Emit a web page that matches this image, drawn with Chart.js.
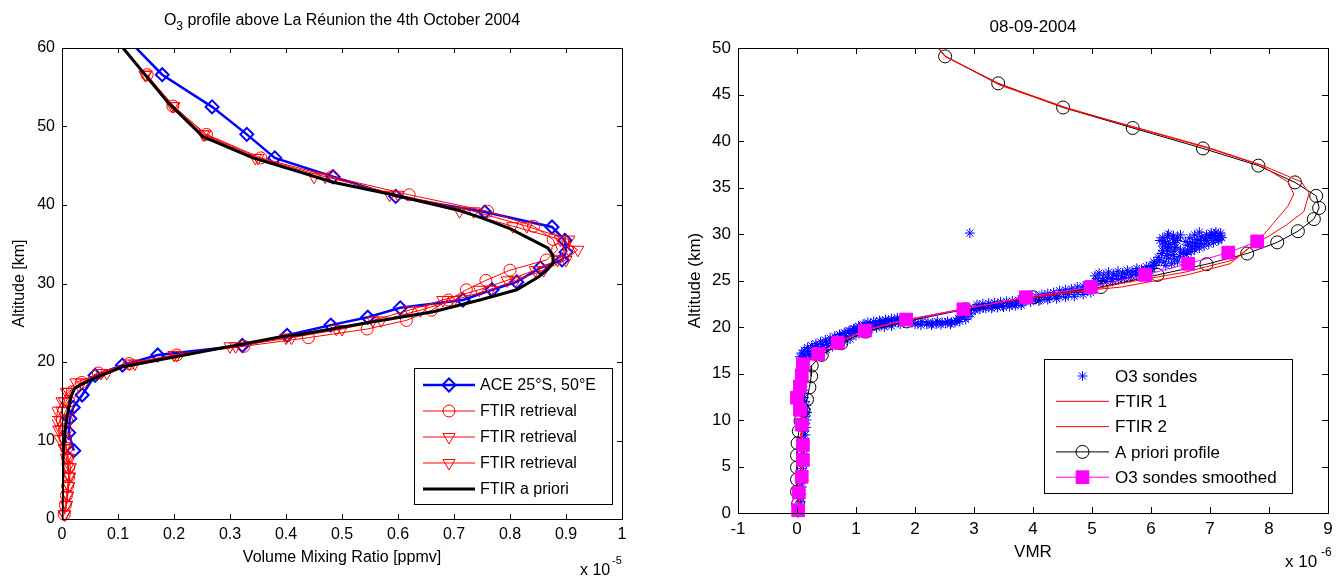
<!DOCTYPE html>
<html><head><meta charset="utf-8">
<script src="https://cdn.jsdelivr.net/npm/chart.js@4.4.1/dist/chart.umd.min.js"></script>
<style>
html,body{margin:0;padding:0;background:#fff;width:1339px;height:577px;overflow:hidden}
canvas{position:absolute;top:0}
#c1{left:0}
#c2{left:670px}
</style></head><body>
<canvas id="c1" width="670" height="577"></canvas>
<canvas id="c2" width="669" height="577"></canvas>
<script>
// ---------------- LEFT CHART DATA (VMR in units of 1e-5 ppmv, altitude km) ----------------
const leftXTicks = [0, 0.1, 0.2, 0.3, 0.4, 0.5, 0.6, 0.7, 0.8, 0.9, 1];
const leftYTicks = [0, 10, 20, 30, 40, 50, 60];

const aceAlt = [62, 56.6, 52.5, 49.0, 46.0, 43.6, 41.1, 39.1, 37.2, 35.5, 34.0, 33.0, 32.0, 30.2, 29.2, 27.9, 26.9, 25.7, 24.7, 23.4, 22.1, 20.9, 19.6, 18.3, 15.8, 14.2, 12.8, 11.0, 8.7];
const aceVmr = [0.105, 0.179, 0.268, 0.330, 0.380, 0.484, 0.596, 0.755, 0.875, 0.898, 0.900, 0.893, 0.854, 0.812, 0.768, 0.716, 0.604, 0.546, 0.480, 0.402, 0.322, 0.171, 0.108, 0.059, 0.036, 0.020, 0.014, 0.012, 0.021];

const ftirAlt = [56.6, 52.6, 49.0, 46.0, 43.6, 41.3, 39.2, 37.3, 35.6, 34.3, 33.0, 31.7, 30.4, 29.2, 27.9, 26.6, 25.3, 24.2, 23.1, 22.0, 20.9, 19.8, 18.6, 17.4, 16.2, 15.0, 13.8, 12.6, 11.4, 10.2, 9.0, 7.8, 6.6, 5.4, 4.2, 3.0, 1.8, 0.6];
const ftir1Vmr = [0.152, 0.198, 0.258, 0.355, 0.482, 0.620, 0.760, 0.842, 0.877, 0.885, 0.865, 0.800, 0.757, 0.722, 0.690, 0.660, 0.615, 0.545, 0.440, 0.325, 0.205, 0.120, 0.065, 0.035, 0.018, 0.012, 0.010, 0.008, 0.006, 0.006, 0.008, 0.010, 0.012, 0.012, 0.010, 0.008, 0.006, 0.004];
const ftir2Vmr = [0.148, 0.197, 0.252, 0.345, 0.450, 0.585, 0.710, 0.805, 0.890, 0.921, 0.900, 0.860, 0.810, 0.765, 0.700, 0.640, 0.570, 0.500, 0.410, 0.310, 0.205, 0.130, 0.080, 0.035, 0.012, 0.000, -0.008, -0.010, -0.006, -0.004, 0.004, 0.008, 0.010, 0.012, 0.012, 0.010, 0.008, 0.005];
const ftir3Vmr = [0.150, 0.200, 0.255, 0.350, 0.470, 0.600, 0.735, 0.830, 0.905, 0.905, 0.885, 0.845, 0.795, 0.745, 0.680, 0.620, 0.555, 0.490, 0.400, 0.300, 0.200, 0.120, 0.070, 0.025, 0.008, 0.004, 0.000, -0.004, -0.002, 0.002, 0.006, 0.012, 0.015, 0.014, 0.012, 0.010, 0.008, 0.004];

const aprioriAlt = [61, 60, 53, 48.7, 46, 44.2, 42.9, 41.3, 39.3, 38.3, 37.0, 35.5, 34.5, 33.5, 32.6, 31.7, 30.8, 29.2, 27.9, 26.4, 25.0, 23.5, 23.2, 20.6, 19.4, 17.7, 16.7, 15.6, 12.2, 8.4, 0];
const aprioriVmr = [0.097, 0.109, 0.190, 0.252, 0.341, 0.425, 0.484, 0.591, 0.710, 0.752, 0.800, 0.841, 0.868, 0.877, 0.877, 0.866, 0.850, 0.812, 0.746, 0.663, 0.545, 0.425, 0.389, 0.198, 0.109, 0.050, 0.023, 0.016, 0.007, 0.002, 0.000];

// ---------------- RIGHT CHART DATA (VMR in units of 1e-6, altitude km) ----------------
const rightXTicks = [-1, 0, 1, 2, 3, 4, 5, 6, 7, 8, 9];
const rightYTicks = [0, 5, 10, 15, 20, 25, 30, 35, 40, 45, 50];

const sondeVmr = [
 0.02,0.05,0.03,0.06,0.04,0.07,0.05,0.08,0.06,0.09,0.07,0.10,0.08,0.11,0.09,0.12,0.10,0.12,0.11,0.13,0.12,0.14,0.12,0.15,0.13,0.16,0.14,0.17,0.15,0.16,0.13,0.12,0.10,0.11,0.09,0.10,0.08,0.09,0.07,0.08,0.09,
 0.10,0.14,0.12,0.20,0.18,0.28,0.26,0.36,0.34,0.45,0.43,0.52,0.50,0.60,0.58,0.68,0.66,0.76,0.74,0.84,0.82,0.92,0.90,1.00,0.98,1.08,1.06,1.16,1.15,1.25,1.24,1.34,1.33,1.43,1.42,1.52,1.51,1.62,1.60,1.72,1.70,1.82,
 0.05,0.08,0.12,0.18,0.25,0.32,0.40,0.48,0.56,0.64,0.72,0.80,0.88,0.96,1.04,1.12,1.20,1.30,1.40,1.50,1.60,1.70,
 0.22,0.30,0.40,0.50,0.60,0.70,0.80,0.90,1.00,1.10,1.22,1.35,1.48,1.60,1.75,
 1.95,2.05,2.12,2.22,2.30,2.38,2.46,2.55,2.62,2.70,2.74,2.78,2.81,2.84,2.88,2.92,
 2.00,2.10,2.20,2.28,2.36,2.44,2.52,2.60,2.68,2.76,2.86,2.90,2.95,
 3.00,3.08,3.16,3.24,3.32,3.40,3.48,3.56,3.64,3.72,3.80,3.88,3.96,4.04,4.12,
 3.02,3.10,3.20,3.30,3.40,3.50,3.60,3.70,3.80,3.05,3.15,3.25,3.35,3.45,3.55,3.65,3.75,3.85,
 4.20,4.28,4.36,4.44,4.52,4.60,4.68,4.76,4.84,4.92,5.00,
 3.95,4.05,4.15,4.25,4.35,4.45,4.55,4.65,4.75,4.85,4.95,4.10,4.25,4.40,4.55,4.70,4.85,4.98,
 5.02,5.06,5.10,5.18,5.26,5.34,5.42,5.50,5.58,5.66,5.74,5.82,5.90,5.98,6.02,
 5.05,5.12,5.20,5.28,5.36,5.44,5.52,5.60,5.68,5.76,5.84,5.92,6.00,5.15,5.25,5.35,5.45,5.55,5.65,5.75,5.85,5.95,
 6.06,6.10,6.14,6.22,6.30,6.26,6.38,6.34,6.28,6.20,6.32,6.22,6.36,6.28,6.44,6.42,6.50,6.56,6.48,
 6.05,6.12,6.18,6.40,6.45,6.35,6.25,6.20,6.40,6.30,6.25,6.40,6.45,6.30,6.20,6.15,6.50,6.38,
 6.62,6.70,6.66,6.78,6.76,6.86,6.84,6.94,6.92,7.02,7.00,7.10,7.08,7.18,7.15,
 6.55,6.60,6.68,6.74,6.82,6.90,6.98,7.06,7.14,7.20,6.62,6.70,6.78,6.86,6.94,7.02,7.10,7.18,6.58,6.66,6.74,6.82,
 2.93];
const sondeAlt = [
 0.0,0.4,0.8,1.2,1.6,2.0,2.4,2.8,3.2,3.6,4.0,4.4,4.8,5.2,5.6,6.0,6.4,6.8,7.2,7.6,8.0,8.4,8.8,9.2,9.6,10.0,10.4,10.8,11.2,11.6,12.0,12.4,12.8,13.2,13.6,14.0,14.4,14.8,15.2,15.6,16.0,
 16.4,16.7,17.0,17.1,17.4,17.4,17.7,17.6,17.9,17.8,18.1,18.0,18.3,18.2,18.5,18.5,18.8,18.7,19.0,19.0,19.3,19.3,19.6,19.5,19.8,19.7,20.0,19.9,20.2,20.0,20.3,20.1,20.4,20.2,20.5,20.3,20.6,20.4,20.7,20.5,20.8,20.6,
 16.8,17.2,17.5,17.8,18.0,18.2,18.4,18.6,18.8,19.0,19.2,19.4,19.6,19.8,20.1,20.3,20.5,20.6,20.7,20.8,20.9,21.0,
 16.9,17.1,17.3,17.6,17.9,18.1,18.4,18.7,19.1,19.4,19.7,19.9,20.0,20.1,20.3,
 20.5,20.4,20.6,20.5,20.4,20.6,20.5,20.6,20.5,20.7,20.9,21.1,21.3,21.5,21.7,21.9,
 20.3,20.2,20.3,20.2,20.35,20.25,20.4,20.3,20.5,20.6,20.8,21.1,21.4,
 22.0,22.2,22.1,22.3,22.2,22.4,22.3,22.5,22.4,22.6,22.5,22.8,22.7,23.0,22.9,
 21.8,21.9,22.0,22.0,22.1,22.15,22.2,22.3,22.35,22.4,22.5,22.55,22.6,22.7,22.75,22.8,22.9,23.0,
 23.2,23.1,23.4,23.3,23.6,23.5,23.8,23.7,24.0,23.9,24.2,
 23.2,23.3,23.5,23.6,23.7,23.9,24.0,24.1,24.3,24.4,24.5,22.8,22.95,23.05,23.2,23.3,23.5,23.7,
 24.6,24.9,25.2,25.0,25.3,25.2,25.5,25.4,25.7,25.6,25.9,25.8,26.1,26.0,26.3,
 25.5,25.8,25.6,25.9,25.7,26.0,25.8,26.1,26.0,26.3,26.2,26.5,26.6,24.7,24.9,24.9,25.1,25.2,25.3,25.5,25.6,25.8,
 26.6,26.9,27.2,27.0,27.4,27.7,27.8,28.1,28.4,28.7,28.9,29.2,29.5,29.8,29.3,28.6,28.3,27.9,27.6,
 27.0,27.5,27.9,27.3,27.0,26.8,26.6,28.2,28.5,28.6,29.0,29.1,29.6,30.0,29.6,29.3,29.9,29.8,
 28.2,28.5,28.8,28.7,29.0,29.0,29.3,29.3,29.6,29.5,29.8,29.7,30.0,29.8,29.4,
 28.0,27.8,28.1,28.3,28.5,28.7,28.9,29.1,29.3,29.6,28.8,29.1,29.4,29.7,29.9,30.1,30.2,30.1,29.2,29.6,29.9,30.2,
 30.1];

const ftirAAlt = [51, 49.1, 46.1, 43.6, 41.4, 39.3, 37.4, 35.6, 34.3, 33.0, 31.5, 30.0, 29.2, 28.2, 27.2, 25.9, 24.7, 24.2, 23.5, 22.9, 22.0, 20.8, 19.7, 18.4, 17.2, 16.3, 15.0, 12.0, 9.0, 6.0, 3.0, 0.0];
const ftirAVmr = [2.26, 2.51, 3.43, 4.56, 5.74, 6.93, 7.86, 8.32, 8.42, 8.32, 8.12, 7.92, 7.80, 7.60, 7.39, 6.58, 5.50, 5.14, 4.40, 3.70, 2.85, 1.88, 1.16, 0.71, 0.37, 0.15, 0.10, 0.09, 0.08, 0.08, 0.06, 0.04];
const ftirBAlt = [51, 49.1, 46.0, 43.5, 41.4, 39.3, 37.4, 35.6, 34.4, 32.4, 31.0, 29.7, 29.2, 27.9, 26.8, 25.6, 24.3, 23.8, 23.2, 22.0, 20.8, 19.7, 18.4, 17.2, 16.3, 15.0, 12.0, 9.0, 6.0, 3.0, 0.0];
const ftirBVmr = [2.26, 2.52, 3.44, 4.57, 5.78, 6.97, 7.88, 8.55, 8.68, 8.59, 8.30, 7.98, 7.80, 7.55, 7.34, 6.61, 5.50, 4.68, 3.90, 2.90, 1.90, 1.17, 0.72, 0.38, 0.15, 0.10, 0.10, 0.08, 0.07, 0.05, 0.04];

const apAlt = [51, 49.1, 46.2, 43.6, 41.4, 39.2, 37.35, 35.55, 34.1, 32.8, 31.6, 30.3, 29.1, 27.9, 26.75, 25.6, 24.3, 23.2, 21.9, 20.6, 19.5, 18.25, 17.0, 15.85, 14.7, 13.5, 12.2, 11.0, 9.9, 8.8, 7.5, 6.2, 4.9, 3.6, 2.3, 1.0];
const apVmr = [2.26, 2.51, 3.41, 4.51, 5.69, 6.88, 7.82, 8.44, 8.80, 8.85, 8.76, 8.49, 8.14, 7.63, 6.94, 6.11, 5.15, 4.00, 2.85, 1.86, 1.16, 0.75, 0.42, 0.25, 0.24, 0.21, 0.17, 0.11, 0.06, 0.03, 0.01, 0.00, 0.00, 0.00, 0.00, 0.02];

const smAlt = [0.3, 2.2, 3.9, 5.7, 7.3, 9.5, 11.1, 12.4, 13.6, 14.8, 16.0, 17.1, 18.3, 19.6, 20.8, 21.9, 23.2, 24.3, 25.6, 26.8, 28.0, 29.2];
const smVmr = [0.02, 0.03, 0.08, 0.10, 0.10, 0.08, 0.05, 0.00, 0.05, 0.08, 0.10, 0.36, 0.69, 1.15, 1.85, 2.82, 3.88, 4.98, 5.90, 6.63, 7.31, 7.80];

// ---------------- helpers ----------------
const FONT = "'Liberation Sans', Arial, Helvetica, sans-serif";
const zip = (xs, ys) => xs.map((x, i) => ({x: x, y: ys[i]}));
const fmt = v => String(Math.round(v * 100) / 100);

const boxTicks = {
  id: 'boxTicks',
  afterDatasetsDraw(chart, args, o) {
    const {ctx, chartArea: a, scales} = chart;
    const L = o.len;
    ctx.save();
    ctx.strokeStyle = '#000';
    ctx.lineWidth = 1;
    ctx.beginPath();
    scales.x.ticks.forEach(t => {
      const p = Math.round(scales.x.getPixelForValue(t.value)) + 0.5;
      ctx.moveTo(p, a.bottom); ctx.lineTo(p, a.bottom - L);
      ctx.moveTo(p, a.top); ctx.lineTo(p, a.top + L);
    });
    scales.y.ticks.forEach(t => {
      const p = Math.round(scales.y.getPixelForValue(t.value)) + 0.5;
      ctx.moveTo(a.left, p); ctx.lineTo(a.left + L, p);
      ctx.moveTo(a.right, p); ctx.lineTo(a.right - L, p);
    });
    ctx.stroke();
    ctx.strokeRect(Math.round(a.left) + 0.5, Math.round(a.top) + 0.5, Math.round(a.right - a.left), Math.round(a.bottom - a.top));
    ctx.restore();
  }
};

const boxLegend = {
  id: 'boxLegend',
  afterDraw(chart, args, o) {
    const ctx = chart.ctx;
    ctx.save();
    ctx.fillStyle = '#fff';
    ctx.fillRect(o.x, o.y, o.w, o.h);
    ctx.strokeStyle = '#000';
    ctx.lineWidth = 1;
    ctx.strokeRect(o.x + 0.5, o.y + 0.5, o.w, o.h);
    chart.data.datasets.forEach((ds, i) => {
      const y = o.row0 + i * o.step;
      if (ds.showLine) {
        ctx.strokeStyle = ds.borderColor;
        ctx.lineWidth = ds.borderWidth;
        ctx.beginPath(); ctx.moveTo(o.x0, y); ctx.lineTo(o.x1, y); ctx.stroke();
      }
      if (ds.pointRadius > 0) {
        ctx.strokeStyle = ds.pointBorderColor;
        ctx.fillStyle = ds.pointBackgroundColor;
        ctx.lineWidth = ds.pointBorderWidth;
        Chart.helpers.drawPoint(ctx, {pointStyle: ds.pointStyle, radius: ds.pointRadius, rotation: ds.pointRotation || 0, borderWidth: ds.pointBorderWidth}, (o.x0 + o.x1) / 2, y);
      }
      ctx.fillStyle = '#000';
      ctx.font = o.size + 'px ' + FONT;
      ctx.textBaseline = 'middle';
      ctx.textAlign = 'left';
      ctx.fillText(ds.label, o.tx, y + 1);
    });
    ctx.restore();
  }
};

const annot = {
  id: 'annot',
  afterDraw(chart, args, o) {
    const ctx = chart.ctx;
    ctx.save();
    ctx.fillStyle = '#000';
    ctx.textBaseline = 'alphabetic';
    ctx.textAlign = 'left';
    let total = 0;
    o.title.forEach(p => { ctx.font = p.size + 'px ' + FONT; p.w = ctx.measureText(p.t).width; total += p.w; });
    let x = o.cx - total / 2;
    o.title.forEach(p => { ctx.font = p.size + 'px ' + FONT; ctx.fillText(p.t, x, o.ty + (p.dy || 0)); x += p.w; });
    o.extra.forEach(p => { ctx.font = p.size + 'px ' + FONT; ctx.fillText(p.t, p.x, p.y); });
    ctx.restore();
  }
};

function axisCfg(min, max, step, tickList, size, fitProp, fitVal, title, titlePad, isX) {
  return {
    type: 'linear', min: min, max: max,
    afterFit: s => { s[fitProp] = fitVal; },
    afterBuildTicks: s => { s.ticks = tickList.map(v => ({value: v})); },
    grid: {display: false, drawTicks: false},
    border: {display: false},
    ticks: {stepSize: step, padding: isX ? 6 : 7, color: '#000', font: {family: FONT, size: size}, maxRotation: 0, autoSkip: false, callback: v => fmt(v)},
    title: {display: true, text: title, color: '#000', font: {family: FONT, size: size}, padding: titlePad}
  };
}

function mk(label, xs, ys, o) {
  return Object.assign({
    label: label, data: zip(xs, ys), showLine: true, tension: 0,
    borderColor: '#000', borderWidth: 1, pointRadius: 0, pointStyle: 'circle',
    pointBorderColor: '#000', pointBackgroundColor: 'rgba(0,0,0,0)', pointBorderWidth: 1, pointRotation: 0
  }, o);
}

const commonOpts = {
  responsive: false, animation: false, events: [],
  plugins: {legend: {display: false}, tooltip: {enabled: false}, title: {display: false}}
};

// ---------------- LEFT CHART ----------------
new Chart(document.getElementById('c1'), {
  type: 'scatter',
  data: {datasets: [
    mk('ACE 25°S, 50°E', aceVmr, aceAlt, {borderColor: '#0000ff', borderWidth: 2.5, pointStyle: 'rectRot', pointRadius: 6.5, pointBorderColor: '#0000ff', pointBorderWidth: 2, order: 5}),
    mk('FTIR retrieval', ftir1Vmr, ftirAlt, {borderColor: '#ff0000', borderWidth: 1, pointStyle: 'circle', pointRadius: 6, pointBorderColor: '#ff0000', order: 4, clip: {left: 10, top: 0, right: 10, bottom: 10}}),
    mk('FTIR retrieval', ftir2Vmr, ftirAlt, {borderColor: '#ff0000', borderWidth: 1, pointStyle: 'triangle', pointRotation: 180, pointRadius: 7, pointBorderColor: '#ff0000', order: 3, clip: {left: 10, top: 0, right: 10, bottom: 10}}),
    mk('FTIR retrieval', ftir3Vmr, ftirAlt, {borderColor: '#ff0000', borderWidth: 1, pointStyle: 'triangle', pointRotation: 180, pointRadius: 7, pointBorderColor: '#ff0000', order: 2, clip: {left: 10, top: 0, right: 10, bottom: 10}}),
    mk('FTIR a priori', aprioriVmr, aprioriAlt, {borderColor: '#000000', borderWidth: 3, order: 1})
  ]},
  options: Object.assign({}, commonOpts, {
    layout: {autoPadding: false, padding: {left: 0, top: 48, right: 48, bottom: 0}},
    scales: {
      x: axisCfg(0, 1, 0.1, leftXTicks, 16, 'height', 58, 'Volume Mixing Ratio [ppmv]', {top: 0, bottom: 10}, true),
      y: axisCfg(0, 60, 10, leftYTicks, 16, 'width', 62, 'Altitude [km]', {top: 10, bottom: 0}, false)
    },
    plugins: Object.assign({}, commonOpts.plugins, {
      boxTicks: {len: 5},
      boxLegend: {x: 414, y: 368, w: 198, h: 136, row0: 385, step: 26, x0: 423, x1: 475, tx: 480, size: 16},
      annot: {
        cx: 342, ty: 25,
        title: [{t: 'O', size: 16}, {t: '3', size: 12, dy: 5}, {t: ' profile above La Réunion the 4th October 2004', size: 16}],
        extra: [{t: 'x 10', size: 16, x: 580, y: 575}, {t: '-5', size: 11, x: 612, y: 564}]
      }
    })
  }),
  plugins: [boxTicks, boxLegend, annot]
});

// ---------------- RIGHT CHART ----------------
new Chart(document.getElementById('c2'), {
  type: 'scatter',
  data: {datasets: [
    mk('O3 sondes', sondeVmr, sondeAlt, {showLine: false, pointStyle: 'star', pointRadius: 5, pointBorderColor: '#0000ff', borderColor: '#0000ff', pointBorderWidth: 1, order: 5, clip: false}),
    mk('FTIR 1', ftirAVmr, ftirAAlt, {borderColor: '#ff0000', borderWidth: 1, order: 3}),
    mk('FTIR 2', ftirBVmr, ftirBAlt, {borderColor: '#ff0000', borderWidth: 1, order: 2}),
    mk('A priori profile', apVmr, apAlt, {borderColor: '#000000', borderWidth: 1, pointStyle: 'circle', pointRadius: 6.5, pointBorderColor: '#000000', order: 4}),
    mk('O3 sondes smoothed', smVmr, smAlt, {borderColor: '#ff00ff', borderWidth: 1, pointStyle: 'rect', pointRadius: 9, pointBorderColor: '#ff00ff', pointBackgroundColor: '#ff00ff', order: 1, clip: false})
  ]},
  options: Object.assign({}, commonOpts, {
    layout: {autoPadding: false, padding: {left: 0, top: 48, right: 11, bottom: 0}},
    scales: {
      x: axisCfg(-1, 9, 1, rightXTicks, 17, 'height', 64, 'VMR', {top: 0, bottom: 14}, true),
      y: axisCfg(0, 50, 5, rightYTicks, 17, 'width', 68, 'Altitude (km)', {top: 15, bottom: 0}, false)
    },
    plugins: Object.assign({}, commonOpts.plugins, {
      boxTicks: {len: 6},
      boxLegend: {x: 374, y: 359, w: 248, h: 134, row0: 376, step: 25.3, x0: 386, x1: 439, tx: 445, size: 17},
      annot: {
        cx: 363, ty: 32,
        title: [{t: '08-09-2004', size: 17}],
        extra: [{t: 'x 10', size: 17, x: 615, y: 567}, {t: '-6', size: 12, x: 651, y: 556}]
      }
    })
  }),
  plugins: [boxTicks, boxLegend, annot]
});
</script>
</body></html>
